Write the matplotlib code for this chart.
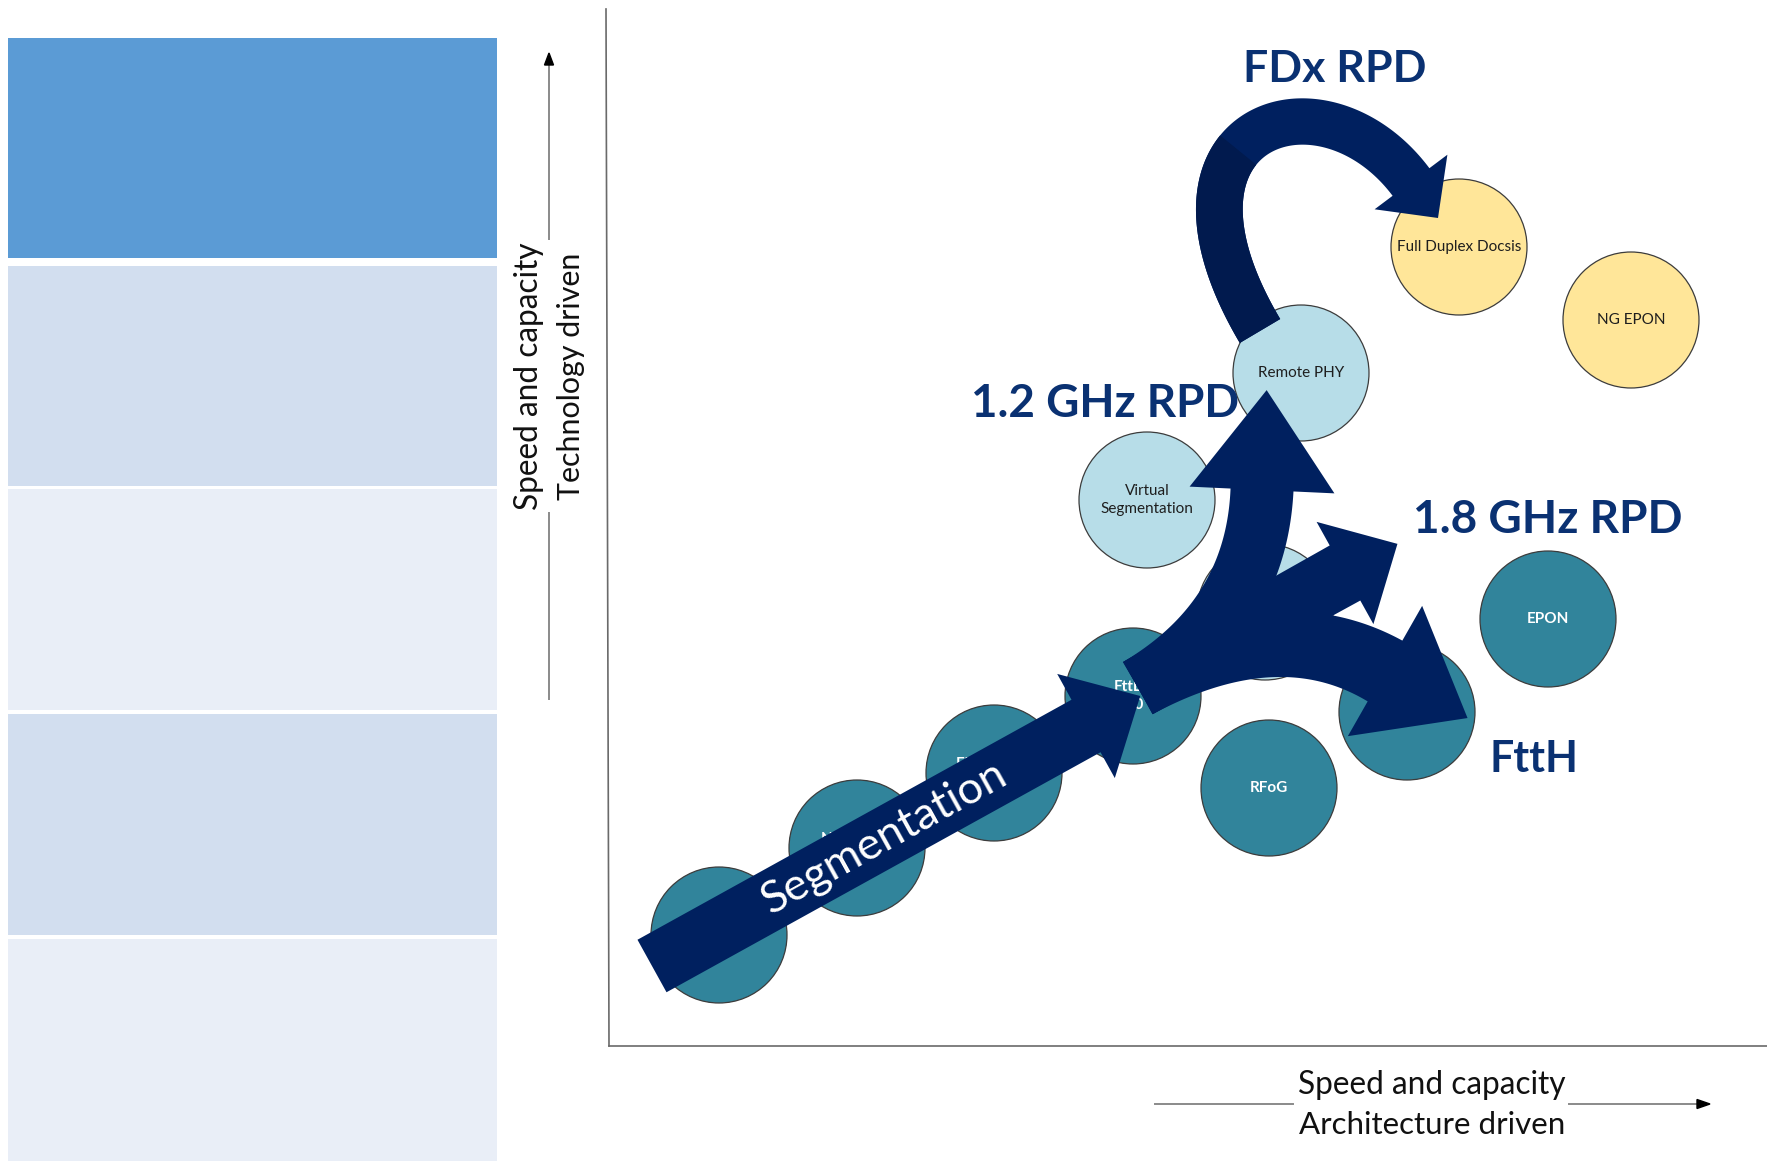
import numpy as np
import matplotlib
matplotlib.use("Agg")
import matplotlib.pyplot as plt
from matplotlib.patches import Circle, Polygon, Rectangle
from math import comb

plt.rcParams['font.family'] = ['Lato', 'DejaVu Sans']

W, H = 1767, 1161

# ---------------------------------------------------------------- data
# left-hand table bands (top to bottom)
band_colors = ["#5B9BD5", "#D2DEEF", "#E9EEF7", "#D2DEEF", "#E9EEF7"]

# access technologies placed on the capacity map
tech_names = ["", "Node Split\nN+2", "Fiber Deep\nN+0", "FttLA\n3.0",
              "Virtual\nSegmentation", "", "Remote PHY",
              "Full Duplex Docsis", "NG EPON", "EPON", "", "RFoG"]
tech_x = [719, 857, 994, 1133, 1147, 1265, 1301, 1459, 1631, 1548, 1407, 1269]
tech_y = [935, 848, 773, 696, 500, 612, 373, 247, 320, 619, 712, 788]
tech_group = ["hfc", "hfc", "hfc", "hfc", "rpd", "rpd", "rpd",
              "fdx", "fdx", "fiber", "fiber", "fiber"]

# migration paths
path_labels = ["FDx RPD", "1.2 GHz RPD", "1.8 GHz RPD", "FttH"]
segment_label = "Segmentation"
x_axis_label = ["Speed and capacity", "Architecture driven"]
y_axis_label = ["Speed and capacity", "Technology driven"]

# ---------------------------------------------------------------- style
NAVY = "#00205F"
NAVY_DARK = "#011A4E"
LABEL_BLUE = "#0A3172"
fills = {"hfc": "#31849B", "fiber": "#31849B", "rpd": "#B7DDE8", "fdx": "#FFE699"}
text_style = {"hfc": ("white", "bold"), "fiber": ("white", "bold"),
              "rpd": ("#1E1E1E", "normal"), "fdx": ("#1E1E1E", "normal")}

fig = plt.figure(figsize=(W / 100, H / 100), dpi=100)
ax = fig.add_axes([0, 0, 1, 1])
ax.set_xlim(0, W)
ax.set_ylim(H, 0)
ax.axis("off")
fig.canvas.draw()
renderer = fig.canvas.get_renderer()


def fit_text(x, y, s, width, rotation=0, **kw):
    """Place text and scale its font so the rendered width equals `width` px."""
    t = ax.text(x, y, s, fontsize=20, **kw)
    w = t.get_window_extent(renderer).width
    t.set_fontsize(20 * width / w)
    t.set_rotation(rotation)
    return t


def centreline(ctrl, t):
    ctrl = np.asarray(ctrl, float)
    k = len(ctrl) - 1
    t = np.asarray(t)[:, None]
    pts = sum(comb(k, i) * (1 - t) ** (k - i) * t ** i * ctrl[i] for i in range(k + 1))
    der = sum(k * comb(k - 1, i) * (1 - t) ** (k - 1 - i) * t ** i * (ctrl[i + 1] - ctrl[i])
              for i in range(k))
    return pts, der


def arrow_outline(ctrl, w0, w1, head_w=None, head_len=None, t0=0.0, t1=1.0, n=150):
    t = np.linspace(t0, t1, n)
    pts, der = centreline(ctrl, t)
    u = der / np.linalg.norm(der, axis=1)[:, None]
    nrm = np.column_stack([-u[:, 1], u[:, 0]])
    w = (w0 + (w1 - w0) * t)[:, None] / 2
    left, right = pts + nrm * w, pts - nrm * w
    if head_w is None:
        return np.vstack([left, right[::-1]])
    e, ue, ne = pts[-1], u[-1], nrm[-1]
    head = [e + ne * head_w / 2, e + ue * head_len, e - ne * head_w / 2]
    return np.vstack([left, head, right[::-1]])


def draw_arrow(ctrl, w0, w1, head_w, head_len, color=NAVY, z=5):
    ax.add_patch(Polygon(arrow_outline(ctrl, w0, w1, head_w, head_len),
                         closed=True, facecolor=color, edgecolor="none", zorder=z))


# ---------------------------------------------------------------- table
band_tops = [38, 266, 489, 714, 939]
band_bottoms = [258, 486, 710, 935, 1161]
for top, bot, col in zip(band_tops, band_bottoms, band_colors):
    ax.add_patch(Rectangle((8, top), 489, bot - top, facecolor=col,
                           edgecolor="none", zorder=1))

# ---------------------------------------------------------------- axes
AX_GREY = "#6A6A6A"
ax.plot([606, 609], [9, 1046], color=AX_GREY, lw=1.2, zorder=2)
ax.plot([609, W], [1046, 1046], color=AX_GREY, lw=1.2, zorder=2)

ARR_GREY = "#8A8A8A"
# vertical direction arrow
ax.plot([549, 549], [699, 513], color=ARR_GREY, lw=1.4, zorder=2)
ax.plot([549, 549], [239, 64], color=ARR_GREY, lw=1.4, zorder=2)
ax.add_patch(Polygon([(549, 53), (544.5, 65), (553.5, 65)], color="black", zorder=2))
fit_text(529, 376, y_axis_label[0], 268, rotation=90, ha="center", va="center",
         color="#111111", rotation_mode="anchor")
fit_text(571, 376, y_axis_label[1], 248, rotation=90, ha="center", va="center",
         color="#111111", rotation_mode="anchor")

# horizontal direction arrow
ax.plot([1155, 1293], [1104, 1104], color=ARR_GREY, lw=1.4, zorder=2)
ax.plot([1569, 1698], [1104, 1104], color=ARR_GREY, lw=1.4, zorder=2)
ax.add_patch(Polygon([(1710, 1104), (1697, 1099.5), (1697, 1108.5)], color="black", zorder=2))
fit_text(1432, 1085, x_axis_label[0], 268, ha="center", va="center", color="#111111")
fit_text(1432, 1125, x_axis_label[1], 268, ha="center", va="center", color="#111111")

# ---------------------------------------------------------------- technologies
R = 68
for name, x, y, grp in zip(tech_names, tech_x, tech_y, tech_group):
    ax.add_patch(Circle((x, y), R, facecolor=fills[grp], edgecolor="#3C3C3C",
                        lw=0.9, zorder=3))
    if name:
        col, wt = text_style[grp]
        ax.text(x, y, name, ha="center", va="center", fontsize=11, color=col,
                fontweight=wt, zorder=4, linespacing=1.3)

# ---------------------------------------------------------------- migration arrows
# segmentation (straight)
draw_arrow([(652, 966), (1086, 726)], 60, 60, 119, 62)
fit_text(884, 838, segment_label, 274, rotation=29, ha="center", va="center",
         color="white", rotation_mode="anchor", zorder=6)

# three-way split from the segmented node
draw_arrow([(1138, 688), (1256, 619), (1262, 490)], 60, 63, 145, 100)
draw_arrow([(1138, 688), (1345, 573)], 60, 63, 117, 60)
draw_arrow([(1138, 688), (1278, 610), (1385, 671)], 60, 70, 150, 95)

# full-duplex curved arrow
fdx_ctrl = [(1260, 331), (1138, 125), (1321, 62), (1411, 182)]
draw_arrow(fdx_ctrl, 47, 46, 91, 45)
ax.add_patch(Polygon(arrow_outline(fdx_ctrl, 47, 46, t0=0.0, t1=0.42),
                     closed=True, facecolor=NAVY_DARK, edgecolor="none", zorder=5))

# ---------------------------------------------------------------- path labels
label_pos = [(1335, 82, 183), (1105, 417, 268), (1548, 533, 270), (1534, 772, 89)]
for text, (x, y, w) in zip(path_labels, label_pos):
    fit_text(x, y, text, w, ha="center", va="baseline", color=LABEL_BLUE,
             fontweight="bold", zorder=7)

fig.savefig("out.png", dpi=100, facecolor="white")
